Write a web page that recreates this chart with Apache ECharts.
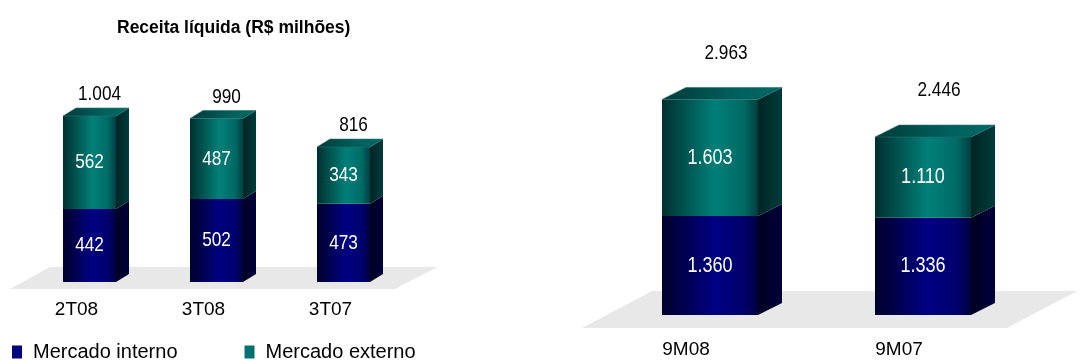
<!DOCTYPE html>
<html>
<head>
<meta charset="utf-8">
<script src="https://cdn.jsdelivr.net/npm/echarts@6/dist/echarts.min.js"></script>
<style>
html,body{margin:0;padding:0;background:#fff;}
#chart{width:1080px;height:360px;}
</style>
</head>
<body>
<div id="chart"></div>
<script>
// ---- Data ----
const categoriesQ = ['2T08', '3T08', '3T07'];
const internoQ = [442, 502, 473];
const externoQ = [562, 487, 343];
const totalQ = [1004, 990, 816];

const categories9M = ['9M08', '9M07'];
const interno9M = [1360, 1336];
const externo9M = [1603, 1110];
const total9M = [2963, 2446];

const seriesNames = ['Mercado interno', 'Mercado externo'];
const titleText = 'Receita líquida (R$ milhões)';

// ---- Helpers ----
const FONT = "'Liberation Sans', Arial, sans-serif";
const NARROW = 0.82; // horizontal squeeze to imitate a narrow face
function fmt(v) { return String(v).replace(/\B(?=(\d{3})+(?!\d))/g, '.'); }
function lg(stops) {
  return new echarts.graphic.LinearGradient(0, 0, 1, 0, stops.map((c) => ({offset: c[0], color: c[1]})));
}
const palette = {
  blue: {
    front: [[0, '#00002a'], [0.55, '#000084'], [0.85, '#00006c'], [1, '#000040']],
    side: [[0, '#000020'], [1, '#00003c']],
    top: [[0, '#000040'], [1, '#000070']]
  },
  teal: {
    front: [[0, '#003030'], [0.55, '#008078'], [0.85, '#006a66'], [1, '#003f3f']],
    side: [[0, '#002424'], [1, '#003c3c']],
    top: [[0, '#003a3a'], [0.6, '#005f5c'], [1, '#006a66']]
  }
};

function boxRender(cfg) {
  return function (params, api) {
    const i = api.value(0), top = api.value(1), base = api.value(2), seg = api.value(3);
    const pT = api.coord([i, top]);
    const pB = api.coord([i, base]);
    const x0 = pT[0] - cfg.w / 2, x1 = x0 + cfg.w;
    const yt = pT[1], yb = pB[1];
    const dx = cfg.dx, dy = cfg.dy;
    const pal = palette[cfg.color];
    const children = [
      {type: 'rect', shape: {x: x0, y: yt, width: cfg.w, height: yb - yt}, style: {fill: lg(pal.front)}},
      {type: 'polygon', shape: {points: [[x1, yt], [x1 + dx, yt - dy], [x1 + dx, yb - dy], [x1, yb]]}, style: {fill: lg(pal.side)}}
    ];
    if (cfg.top) {
      children.push({type: 'polygon', shape: {points: [[x0, yt], [x0 + dx, yt - dy], [x1 + dx, yt - dy], [x1, yt]]}, style: {fill: lg(pal.top), stroke: '#2a6e6e', lineWidth: 0.6}});
    }
    children.push({
      type: 'text', x: (x0 + x1) / 2, y: (yt + yb) / 2, scaleX: NARROW,
      style: {x: 0, y: 0, text: fmt(seg), fill: '#ffffff', font: cfg.font + 'px ' + FONT, align: 'center', verticalAlign: 'middle'}
    });
    return {type: 'group', children: children};
  };
}

function totalRender(cfg) {
  return function (params, api) {
    const i = api.value(0), tot = api.value(1);
    const p = api.coord([i, tot]);
    return {
      type: 'text', x: p[0] + cfg.ox, y: p[1] + cfg.oy, scaleX: NARROW,
      style: {x: 0, y: 0, text: fmt(tot), fill: '#000000', font: cfg.font + 'px ' + FONT, align: 'center', verticalAlign: 'bottom'}
    };
  };
}

function stackData(inner, outer, top) {
  return top ? outer.map((v, i) => [i, inner[i] + v, inner[i], v]) : inner.map((v, i) => [i, v, 0, v]);
}

const L = {w: 53, dx: 13, dy: 8, font: 21};
const R = {w: 96, dx: 24, dy: 12, font: 22};

const chart = echarts.init(document.getElementById('chart'), null, {renderer: 'canvas'});

const axisLabelBase = {fontFamily: FONT, fontSize: 19, color: '#000', verticalAlign: 'top'};

chart.setOption({
  animation: false,
  backgroundColor: '#ffffff',
  title: {
    text: titleText, left: 117, top: 19, padding: 0,
    textStyle: {fontFamily: FONT, fontSize: 17.5, fontWeight: 'bold', color: '#000'}
  },
  legend: {
    data: seriesNames, left: 12, top: 342, padding: 0, itemWidth: 10, itemHeight: 13, itemGap: 67,
    icon: 'rect',
    textStyle: {fontFamily: FONT, fontSize: 20, color: '#000', padding: [0, 0, 0, 6]}
  },
  graphic: [
    {type: 'polygon', z: -1, shape: {points: [[50, 267], [437, 267], [395, 289], [10, 289]]}, style: {fill: '#e8e8e8'}},
    {type: 'polygon', z: -1, shape: {points: [[652, 291], [1077, 291], [1007, 328], [582, 328]]}, style: {fill: '#e8e8e8'}}
  ],
  grid: [
    {left: 26, width: 381, top: 34, bottom: 78},
    {left: 603.5, width: 426, top: 24, bottom: 45}
  ],
  xAxis: [
    {gridIndex: 0, type: 'category', data: categoriesQ, axisLine: {show: false}, axisTick: {show: false},
      axisLabel: Object.assign({}, axisLabelBase, {margin: 18, padding: [0, 26, 0, 0]})},
    {gridIndex: 1, type: 'category', data: categories9M, axisLine: {show: false}, axisTick: {show: false},
      axisLabel: Object.assign({}, axisLabelBase, {margin: 25, padding: [0, 48, 0, 0]})}
  ],
  yAxis: [
    {gridIndex: 0, type: 'value', min: 0, max: 1500, show: false, splitLine: {show: false}},
    {gridIndex: 1, type: 'value', min: 0, max: 4000, show: false, splitLine: {show: false}}
  ],
  series: [
    {name: seriesNames[0], type: 'custom', xAxisIndex: 0, yAxisIndex: 0, color: '#000080',
      renderItem: boxRender(Object.assign({color: 'blue', top: false}, L)),
      encode: {x: 0, y: [1, 2]}, data: stackData(internoQ, externoQ, false)},
    {name: seriesNames[1], type: 'custom', xAxisIndex: 0, yAxisIndex: 0, color: '#007070',
      renderItem: boxRender(Object.assign({color: 'teal', top: true}, L)),
      encode: {x: 0, y: [1, 2]}, data: stackData(internoQ, externoQ, true)},
    {name: 'totalQ', type: 'custom', xAxisIndex: 0, yAxisIndex: 0,
      renderItem: totalRender({ox: 10, oy: -11, font: 21}),
      encode: {x: 0, y: 1}, data: totalQ.map((v, i) => [i, v])},
    {name: seriesNames[0], type: 'custom', xAxisIndex: 1, yAxisIndex: 1, color: '#000080',
      renderItem: boxRender(Object.assign({color: 'blue', top: false}, R)),
      encode: {x: 0, y: [1, 2]}, data: stackData(interno9M, externo9M, false)},
    {name: seriesNames[1], type: 'custom', xAxisIndex: 1, yAxisIndex: 1, color: '#007070',
      renderItem: boxRender(Object.assign({color: 'teal', top: true}, R)),
      encode: {x: 0, y: [1, 2]}, data: stackData(interno9M, externo9M, true)},
    {name: 'total9M', type: 'custom', xAxisIndex: 1, yAxisIndex: 1,
      renderItem: totalRender({ox: 16, oy: -36, font: 21}),
      encode: {x: 0, y: 1}, data: total9M.map((v, i) => [i, v])}
  ]
});
</script>
</body>
</html>
